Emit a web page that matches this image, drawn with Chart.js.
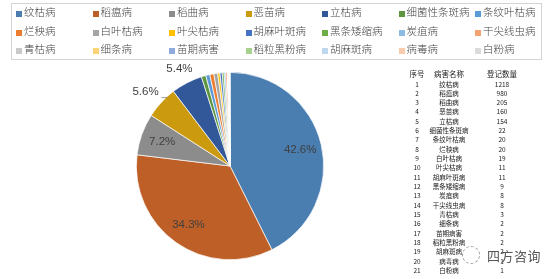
<!DOCTYPE html>
<html>
<head>
<meta charset="utf-8">
<script src="https://cdn.jsdelivr.net/npm/chart.js@4/dist/chart.umd.min.js"></script>
<style>
  body { margin: 0; background: #fff; }
  #wrap { position: relative; width: 554px; height: 279px; overflow: hidden; }
  #pie { position: absolute; left: 0; top: 0; }
  #legend { position: absolute; left: 11px; top: 3px; width: 531px; height: 57px; border: 1px solid #d4d4d4; box-sizing: border-box; }
  .li { position: absolute; font: 10.5px "Noto Sans CJK SC", sans-serif; font-weight: 300; color: #444; white-space: nowrap; line-height: 12px; }
  .li i { display: inline-block; width: 6px; height: 6px; margin-right: 2px; vertical-align: -1px; }
  #tbl { position: absolute; left: 0; top: 0; }
  .tc { position: absolute; font: 6.5px "Noto Sans CJK SC", sans-serif; color: #222; white-space: nowrap; transform: translate(-50%, -50%); }
  .th { font-size: 7.5px; }
  #wm { position: absolute; left: 487px; top: 246px; font: 13px "Noto Sans CJK SC", sans-serif; color: #555; letter-spacing: 0.5px; }
  #wmc { position: absolute; left: 462px; top: 246px; width: 16px; height: 16px; border: 1px dashed #999; border-radius: 50%; }
</style>
</head>
<body>
<div id="wrap">
  <canvas id="pie" width="554" height="279"></canvas>
  <div id="legend"></div>
  <div id="tbl"></div>
  <div id="wmc"></div>
  <div id="wm">四方咨询</div>
</div>
<script>
var diseases = ['纹枯病', '稻瘟病', '稻曲病', '恶苗病', '立枯病', '细菌性条斑病', '条纹叶枯病',
    '烂秧病', '白叶枯病', '叶尖枯病', '胡麻叶斑病', '黑条矮缩病', '炭疽病', '干尖线虫病',
    '青枯病', '细条病', '苗期病害', '稻粒黑粉病', '胡麻斑病', '病毒病', '白粉病'];
var counts = [1218, 980, 205, 160, 154, 22, 20, 20, 19, 11, 11, 9, 8, 8, 3, 2, 2, 2, 2, 1, 1];
var colors = ['#4A7DB0', '#BD5F26', '#8C8C8C', '#CC9A0E', '#33589A', '#5E9640', '#5B9BD5',
    '#ED7D31', '#A5A5A5', '#FFC000', '#4472C4', '#70AD47', '#8DBBE3', '#F4A272',
    '#C9C9C9', '#FFD37A', '#8FAADC', '#A9D18E', '#BDD7EE', '#F8CBAD', '#DBDBDB'];
var tableHeader = ['序号', '病害名称', '登记数量'];

var total = 0;
for (var i in counts) total += counts[i];

// percentage labels on the big slices
var pctLabels = {
    id: 'pctLabels',
    afterDraw: function (chart) {
        var ctx = chart.ctx;
        var arcs = chart.getDatasetMeta(0).data;
        ctx.save();
        ctx.font = '11.5px "Liberation Sans", sans-serif';
        ctx.fillStyle = '#404040';
        ctx.textAlign = 'center';
        ctx.textBaseline = 'middle';
        for (var k = 0; k < 5; k++) {
            var a = arcs[k];
            var mid = (a.startAngle + a.endAngle) / 2;
            var f = k < 3 ? 0.77 : 1.17;
            var x = a.x + Math.cos(mid) * a.outerRadius * f;
            var y = a.y + Math.sin(mid) * a.outerRadius * f;
            if (k == 3) x -= 4;
            ctx.fillText((counts[k] / total * 100).toFixed(1) + '%', x, y);
            if (k == 3) {
                ctx.strokeStyle = '#808080';
                ctx.lineWidth = 0.8;
                ctx.beginPath();
                ctx.moveTo(x + 16, y + 6);
                ctx.lineTo(x + 22, y + 6);
                ctx.stroke();
            }
        }
        ctx.restore();
    }
};

var ctx = document.getElementById('pie').getContext('2d');
var mychart = new Chart(ctx, {
    type: 'pie',
    data: {
        labels: diseases,
        datasets: [{
            data: counts,
            backgroundColor: colors,
            borderColor: '#ffffff',
            borderWidth: 0.7
        }]
    },
    options: {
        responsive: false,
        animation: false,
        layout: { padding: { left: 136, right: 230, top: 72, bottom: 19 } },
        plugins: {
            legend: { display: false },
            tooltip: { enabled: false }
        }
    },
    plugins: [pctLabels]
});

// legend grid, 7 columns
var leg = document.getElementById('legend');
for (var j = 0; j < diseases.length; j++) {
    var d = document.createElement('div');
    d.className = 'li';
    d.style.left = (4 + (j % 7) * 76.5) + 'px';
    d.style.top = (2 + Math.floor(j / 7) * 18.5) + 'px';
    d.innerHTML = '<i style="background:' + colors[j] + '"></i>' + diseases[j];
    leg.appendChild(d);
}

// table on the right
var tbl = document.getElementById('tbl');
var colX = [417, 449, 502];
function cell(txt, x, y, cls) {
    var c = document.createElement('div');
    c.className = 'tc' + (cls ? ' ' + cls : '');
    c.style.left = x + 'px';
    c.style.top = y + 'px';
    c.textContent = txt;
    tbl.appendChild(c);
}
for (var h = 0; h < 3; h++) cell(tableHeader[h], colX[h], 73, 'th');
for (var r = 0; r < diseases.length; r++) {
    var ry = 83.5 + r * 9.33;
    cell(String(r + 1), colX[0], ry);
    cell(diseases[r], colX[1], ry);
    cell(String(counts[r]), colX[2], ry);
}
</script>
</body>
</html>
